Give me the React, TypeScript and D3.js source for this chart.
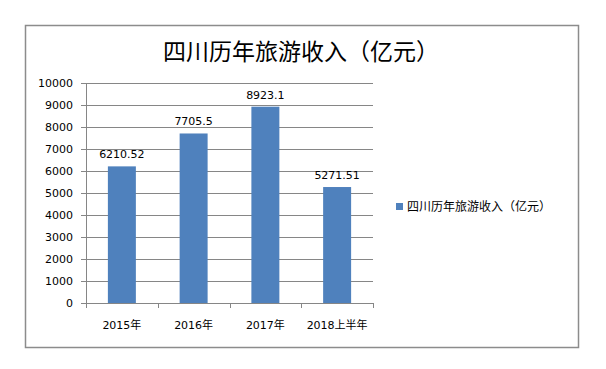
import React from 'react'
import * as d3 from "d3";

const categories = ["2015年", "2016年", "2017年", "2018上半年"]
const values = [6210.52, 7705.5, 8923.1, 5271.51]
const valueLabels = ["6210.52", "7705.5", "8923.1", "5271.51"]
const yTicks = [0, 1000, 2000, 3000, 4000, 5000, 6000, 7000, 8000, 9000, 10000]
const title = "四川历年旅游收入（亿元）"
const seriesName = "四川历年旅游收入（亿元）"

const font = "'DejaVu Sans', 'Noto Sans CJK SC', sans-serif"

export default function App() {
  const width = 606
  const height = 369

  //plot area
  const plot = { left: 86, right: 373, top: 83, bottom: 303 }

  const xScale = d3.scaleBand<string>()
    .domain(categories)
    .range([plot.left, plot.right])
    .paddingInner(0.61)
    .paddingOuter(0.305)

  const bandStep = (plot.right - plot.left) / categories.length

  const yScale = d3.scaleLinear()
    .domain([0, 10000])
    .range([plot.bottom, plot.top])

  return (
    <svg width={width} height={height} style={{ position: "absolute", left: 0, top: 0 }}>
      <rect x={0} y={0} width={width} height={height} fill="#ffffff" />
      <rect x={25.5} y={25.5} width={553} height={322} fill="#ffffff" stroke="#8c8c8c" strokeWidth={1.5} />

      <text x={301} y={60} textAnchor="middle" fontSize={23} fontFamily={font} fill="#000">{title}</text>

      {/* gridlines and y ticks */}
      {yTicks.map(t => (
        <g key={t}>
          <line x1={plot.left - 5} x2={plot.right} y1={Math.round(yScale(t)) + 0.5} y2={Math.round(yScale(t)) + 0.5}
            stroke="#868686" strokeWidth={1} />
          <text x={73} y={yScale(t) + 4} textAnchor="end" fontSize={11} fontFamily={font} fill="#000">{t}</text>
        </g>
      ))}

      {/* axes */}
      <line x1={plot.left + 0.5} x2={plot.left + 0.5} y1={plot.top} y2={plot.bottom} stroke="#868686" />
      {d3.range(categories.length + 1).map(i => (
        <line key={i} x1={Math.round(plot.left + i * bandStep) + 0.5} x2={Math.round(plot.left + i * bandStep) + 0.5}
          y1={plot.bottom} y2={plot.bottom + 5} stroke="#868686" />
      ))}

      {/* bars */}
      {categories.map((c, i) => (
        <g key={c}>
          <rect x={xScale(c)} y={yScale(values[i])} width={xScale.bandwidth()} height={plot.bottom - yScale(values[i])}
            fill="#4f81bd" />
          <text x={(xScale(c) ?? 0) + xScale.bandwidth() / 2} y={yScale(values[i]) - 8} textAnchor="middle"
            fontSize={11} fontFamily={font} fill="#000">{valueLabels[i]}</text>
          <text x={(xScale(c) ?? 0) + xScale.bandwidth() / 2} y={329} textAnchor="middle"
            fontSize={11} fontFamily={font} fill="#000">{c}</text>
        </g>
      ))}

      {/* legend */}
      <rect x={396} y={203} width={7} height={7} fill="#4f81bd" />
      <text x={407} y={211} fontSize={12} fontFamily={font} fill="#000">{seriesName}</text>
    </svg>
  )
}
